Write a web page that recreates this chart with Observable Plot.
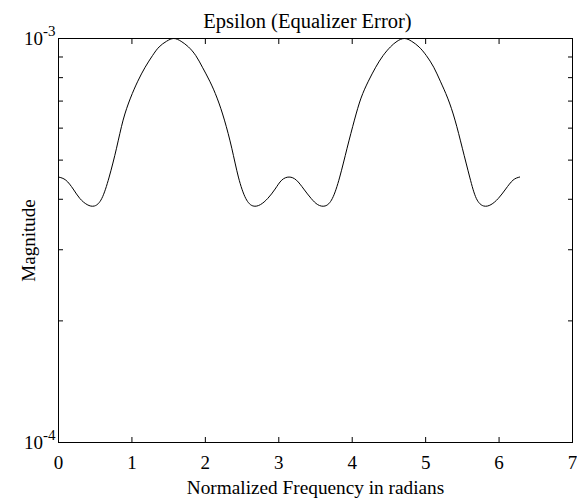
<!DOCTYPE html>
<html><head><meta charset="utf-8">
<script src="https://cdn.jsdelivr.net/npm/d3@7"></script>
<script src="https://cdn.jsdelivr.net/npm/@observablehq/plot@0.6"></script>
<style>html,body{margin:0;padding:0;background:#fff} svg{display:block}</style>
</head><body><div id="chart"></div>
<script>
const freq = [0.00,0.10,0.20,0.29,0.39,0.49,0.59,0.69,0.79,0.88,0.98,1.08,1.18,1.28,1.37,1.47,1.57,1.67,1.77,1.87,1.96,2.06,2.16,2.26,2.36,2.45,2.55,2.65,2.75,2.85,2.95,3.04,3.14,3.24,3.34,3.44,3.53,3.63,3.73,3.83,3.93,4.03,4.12,4.22,4.32,4.42,4.52,4.61,4.71,4.81,4.91,5.01,5.11,5.20,5.30,5.40,5.50,5.60,5.69,5.79,5.89,5.99,6.09,6.19,6.28];
const magnitude = [
  4.54e-4,4.46e-4,4.24e-4,4.02e-4,3.88e-4,3.85e-4,4.02e-4,4.54e-4,5.35e-4,6.28e-4,7.12e-4,7.84e-4,8.49e-4,9.07e-4,9.53e-4,9.84e-4,
  1.00e-3,
  9.84e-4,9.53e-4,9.07e-4,8.49e-4,7.84e-4,7.12e-4,6.28e-4,5.35e-4,4.54e-4,4.02e-4,3.85e-4,3.88e-4,4.02e-4,4.24e-4,4.46e-4,
  4.54e-4,
  4.46e-4,4.24e-4,4.02e-4,3.88e-4,3.85e-4,4.02e-4,4.54e-4,5.35e-4,6.28e-4,7.12e-4,7.84e-4,8.49e-4,9.07e-4,9.53e-4,9.84e-4,
  1.00e-3,
  9.84e-4,9.53e-4,9.07e-4,8.49e-4,7.84e-4,7.12e-4,6.28e-4,5.35e-4,4.54e-4,4.02e-4,3.85e-4,3.88e-4,4.02e-4,4.24e-4,4.46e-4,
  4.54e-4
];
const xTicks = [0,1,2,3,4,5,6,7];
const yMajor = [1e-4, 1e-3];
const yExponents = ["-4", "-3"];
const yMinor = [2e-4,3e-4,4e-4,5e-4,6e-4,7e-4,8e-4,9e-4];
const titleText = "Epsilon (Equalizer Error)";
const xLabelText = "Normalized Frequency in radians";
const yLabelText = "Magnitude";

const data = freq.map((f, i) => ({f, m: magnitude[i]}));
const font = "'Liberation Serif', 'Times New Roman', Times, serif";
const blank = () => "";

const chart = Plot.plot({
  width: 577, height: 498,
  marginLeft: 58, marginRight: 5, marginTop: 38, marginBottom: 56,
  style: {fontFamily: font, fontSize: "19px", background: "#fff", color: "#000", overflow: "visible"},
  x: {domain: [0, 7]},
  y: {type: "log", domain: [1e-4, 1e-3]},
  marks: [
    Plot.line(data, {x: "f", y: "m", stroke: "#000", strokeWidth: 1, curve: "natural"}),
    Plot.axisX(xTicks, {anchor: "bottom", tickSize: 5, dy: -5, tickPadding: 13, label: null, fontSize: 19}),
    Plot.axisX(xTicks, {anchor: "top", tickSize: 5, dy: 5, tickFormat: blank, label: null}),
    Plot.axisY(yMajor, {anchor: "left", tickSize: 5, dx: 5, tickPadding: 3, label: null,
      tickFormat: d => "10|" + yExponents[yMajor.indexOf(d)], fontSize: 19}),
    Plot.axisY(yMinor, {anchor: "left", tickSize: 5, dx: 5, tickFormat: blank, label: null}),
    Plot.axisY(yMajor.concat(yMinor), {anchor: "right", tickSize: 5, dx: -5, tickFormat: blank, label: null}),
    Plot.frame({stroke: "#000", strokeWidth: 1}),
    Plot.text([titleText], {frameAnchor: "top", dx: -8, dy: -17.3, text: d => d, fontSize: 20.5, lineAnchor: "middle", textAnchor: "middle"}),
    Plot.text([xLabelText], {frameAnchor: "bottom", dy: 45, text: d => d, fontSize: 19.3, lineAnchor: "middle", textAnchor: "middle"}),
    Plot.text([yLabelText], {frameAnchor: "left", dx: -30, rotate: -90, text: d => d, fontSize: 19, lineAnchor: "middle", textAnchor: "middle"})
  ]
});

// render "10|-3" tick labels as 10 with a superscript exponent
d3.select(chart).selectAll("text").each(function() {
  const t = d3.select(this);
  const s = t.text();
  if (s.indexOf("|") >= 0) {
    const [base, exp] = s.split("|");
    t.text(null);
    t.append("tspan").text(base);
    t.append("tspan").attr("dy", "-9").attr("font-size", "15px").text(exp);
  }
});

document.getElementById("chart").appendChild(chart);
</script>
</body></html>
